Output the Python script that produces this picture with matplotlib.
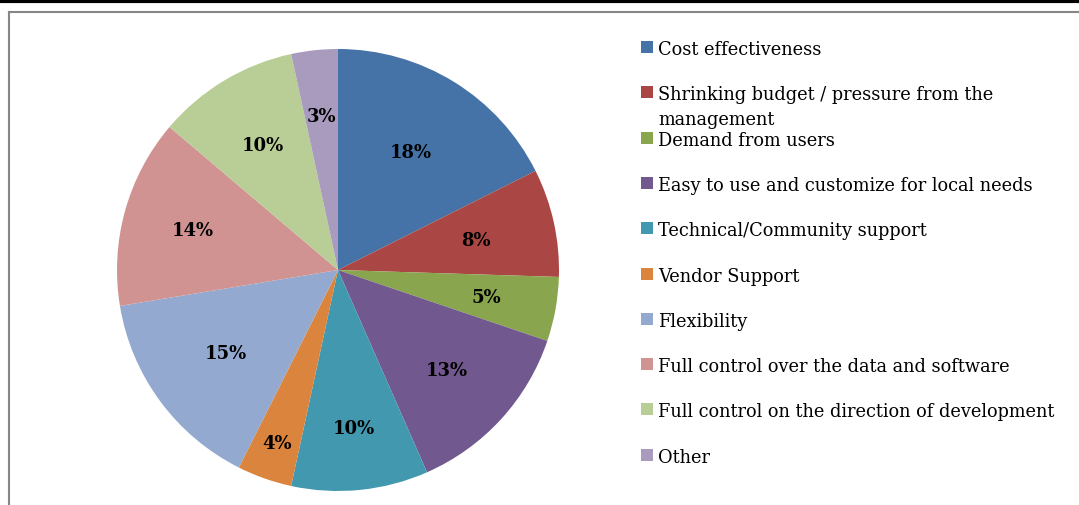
import numpy as np
import matplotlib.pyplot as plt
from matplotlib.lines import Line2D
from matplotlib.patches import Rectangle

categories = [
    "Cost effectiveness",
    "Shrinking budget / pressure from the\nmanagement",
    "Demand from users",
    "Easy to use and customize for local needs",
    "Technical/Community support",
    "Vendor Support",
    "Flexibility",
    "Full control over the data and software",
    "Full control on the direction of development",
    "Other",
]
shares = [17.6, 7.9, 4.7, 13.2, 10.0, 4.0, 15.0, 13.8, 10.4, 3.4]
colors = ['#4572A7', '#AA4643', '#89A54E', '#71588F', '#4198AF',
          '#DB843D', '#93A9CF', '#D19392', '#B9CD96', '#A99BBD']
# how far out each percentage label sits (fraction of radius), like Excel "best fit"
label_dist = [0.63, 0.64, 0.68, 0.67, 0.72, 0.83, 0.63, 0.68, 0.66, 0.70]

plt.rcParams['font.family'] = ['DejaVu Serif']

W, H = 1079, 506
fig = plt.figure(figsize=(W / 100, H / 100), dpi=100)

# pie placed by pixel geometry: centre (338, 271), radius ~221
cx, cy, r = 338, 271, 221
ax = fig.add_axes([(cx - r) / W, (H - cy - r) / H, 2 * r / W, 2 * r / H])
wedges, texts, autotexts = ax.pie(
    shares, colors=colors, startangle=90, counterclock=False,
    autopct=lambda p: f"{p:.0f}%", radius=1,
    wedgeprops=dict(linewidth=0),
    textprops=dict(fontsize=13, fontweight='bold', color='black'))
for w, t, d in zip(wedges, autotexts, label_dist):
    ang = np.deg2rad((w.theta1 + w.theta2) / 2)
    t.set_position((d * np.cos(ang), d * np.sin(ang)))
ax.set_xlim(-1, 1)
ax.set_ylim(-1, 1)
ax.set_aspect('equal')
ax.axis('off')

# legend drawn by hand so the wrapped entry does not push the others down
x_box, x_txt = 641, 658
y0, step, line_h = 48, 45.3, 25
for i, (lab, col) in enumerate(zip(categories, colors)):
    y = y0 + i * step
    fig.patches.append(Rectangle((x_box / W, (H - y - 6) / H), 12 / W, 12 / H,
                                 transform=fig.transFigure, facecolor=col,
                                 edgecolor='none'))
    for k, line in enumerate(lab.split('\n')):
        fig.text(x_txt / W, (H - y - 7 - k * line_h) / H, line, fontsize=12.8,
                 va='baseline', ha='left', color='black')

# frame lines
fig.add_artist(Line2D([0, 1], [1 - 1.5 / H, 1 - 1.5 / H], color='black',
                      linewidth=3, transform=fig.transFigure))
fig.add_artist(Line2D([8.5 / W, 1], [(H - 12.5) / H, (H - 12.5) / H],
                      color='#868686', linewidth=1.5, transform=fig.transFigure))
fig.add_artist(Line2D([8.5 / W, 8.5 / W], [0, (H - 12.5) / H],
                      color='#868686', linewidth=1.5, transform=fig.transFigure))

fig.savefig('out.png', dpi=100)
